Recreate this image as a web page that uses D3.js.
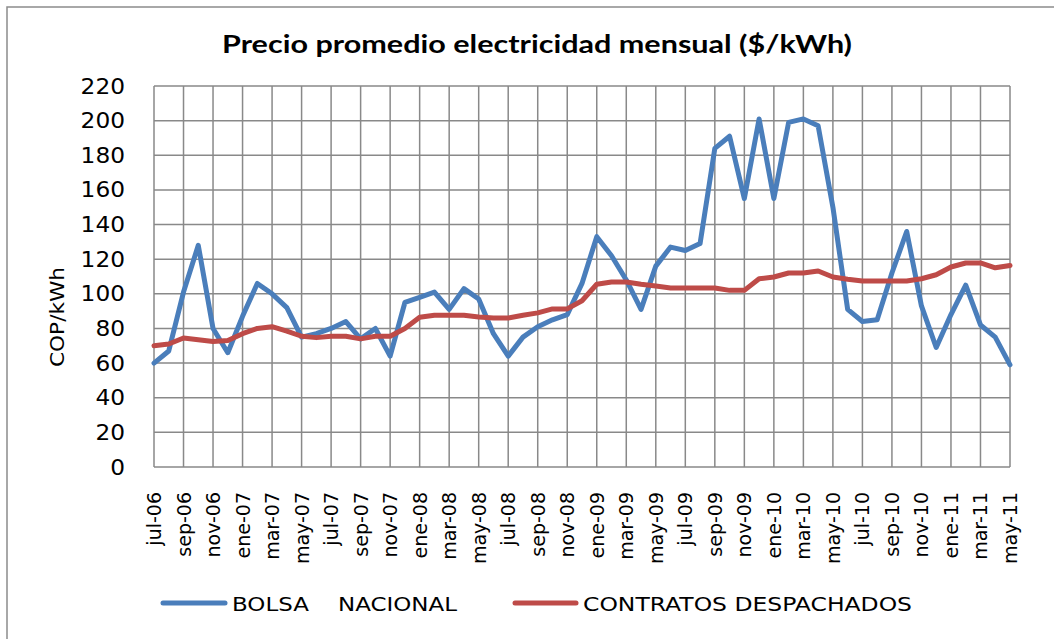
<!DOCTYPE html>
<html lang="es">
<head>
<meta charset="UTF-8" />
<title>Precio promedio electricidad mensual</title>
<script src="https://d3js.org/d3.v7.min.js"></script>
<style>
  body { margin: 0; background: #fff; }
  svg { display: block; font-family: "DejaVu Sans", "Open Sans", sans-serif; }
</style>
</head>
<body>
<svg id="chart" width="1054" height="639"></svg>
<script>
// months jul-06 .. may-11
const months = [
  "jul-06","ago-06","sep-06","oct-06","nov-06","dic-06",
  "ene-07","feb-07","mar-07","abr-07","may-07","jun-07","jul-07","ago-07","sep-07","oct-07","nov-07","dic-07",
  "ene-08","feb-08","mar-08","abr-08","may-08","jun-08","jul-08","ago-08","sep-08","oct-08","nov-08","dic-08",
  "ene-09","feb-09","mar-09","abr-09","may-09","jun-09","jul-09","ago-09","sep-09","oct-09","nov-09","dic-09",
  "ene-10","feb-10","mar-10","abr-10","may-10","jun-10","jul-10","ago-10","sep-10","oct-10","nov-10","dic-10",
  "ene-11","feb-11","mar-11","abr-11","may-11"
];
const bolsa = [
  60, 67, 101, 128, 80, 66, 87, 106, 100, 92,
  75, 77, 80, 84, 74, 80, 64, 95, 98, 101,
  91, 103, 97, 77, 64, 75, 81, 85, 88, 106,
  133, 122, 108, 91, 116, 127, 125, 129, 184, 191,
  155, 201, 155, 199, 201, 197, 150, 91, 84, 85,
  112, 136, 93, 69, 88, 105, 82, 75, 59
];
const contratos = [
  70, 71, 74.5, 73.5, 72.5, 73, 77, 80, 81, 78.5,
  75.5, 74.7, 75.5, 75.5, 74, 75.5, 75.5, 80, 86.5, 87.6,
  87.6, 87.6, 86.6, 86, 86, 87.6, 89, 91.3, 91.3, 96,
  105.5, 106.8, 106.8, 105.5, 104.5, 103.4, 103.4, 103.4, 103.4, 102,
  102, 108.7, 109.7, 112, 112, 113.2, 109.7, 108.4, 107.4, 107.4,
  107.4, 107.4, 108.7, 111, 115.5, 117.8, 117.8, 115, 116.4
];
const yTicks = [0, 20, 40, 60, 80, 100, 120, 140, 160, 180, 200, 220];
const seriesNames = ["BOLSA    NACIONAL", "CONTRATOS DESPACHADOS"];
const colors = ["#4A7EBB", "#BE4B48"];

const svg = d3.select("#chart");

// outer frame
svg.append("rect")
  .attr("x", 7).attr("y", 7)
  .attr("width", 1100).attr("height", 700)
  .attr("fill", "none").attr("stroke", "#8c8c8c").attr("stroke-width", 1.5);

const x = d3.scalePoint().domain(months).range([154, 1010]);
const y = d3.scaleLinear().domain([0, 220]).range([467, 86]);

// title
svg.append("text")
  .attr("x", 537).attr("y", 53)
  .attr("text-anchor", "middle")
  .attr("font-family", "Lato, sans-serif")
  .attr("font-size", 24).attr("font-weight", "bold")
  .attr("textLength", 630).attr("lengthAdjust", "spacingAndGlyphs")
  .text("Precio promedio electricidad mensual ($/kWh)");

// grid
const labelled = months.filter((d, i) => i % 2 === 0);
svg.append("g").selectAll("line.h")
  .data(yTicks).enter().append("line")
  .attr("x1", 154).attr("x2", 1010)
  .attr("y1", d => y(d)).attr("y2", d => y(d))
  .attr("stroke", "#898989").attr("stroke-width", 1.5);
svg.append("g").selectAll("line.v")
  .data(labelled).enter().append("line")
  .attr("x1", d => x(d)).attr("x2", d => x(d))
  .attr("y1", 86).attr("y2", 467)
  .attr("stroke", "#898989").attr("stroke-width", 1.5);

// y axis labels
svg.append("g").selectAll("text")
  .data(yTicks).enter().append("text")
  .attr("x", 125).attr("y", d => y(d))
  .attr("dy", "0.36em")
  .attr("text-anchor", "end")
  .attr("font-size", 21)
  .attr("textLength", d => String(d).length * 14.8)
  .attr("lengthAdjust", "spacingAndGlyphs")
  .text(d => d);

svg.append("text")
  .attr("transform", "translate(64,317) rotate(-90)")
  .attr("text-anchor", "middle")
  .attr("font-size", 19)
  .attr("textLength", 100).attr("lengthAdjust", "spacingAndGlyphs")
  .text("COP/kWh");

// x axis labels
svg.append("g").selectAll("text")
  .data(labelled).enter().append("text")
  .attr("transform", d => `translate(${x(d) + 7},492) rotate(-90)`)
  .attr("text-anchor", "end")
  .attr("font-size", 19)
  .text(d => d);

// lines
const line = d3.line().x((d, i) => x(months[i])).y(d => y(d));
[bolsa, contratos].forEach((s, k) => {
  svg.append("path")
    .datum(s)
    .attr("d", line)
    .attr("fill", "none")
    .attr("stroke", colors[k])
    .attr("stroke-width", 5)
    .attr("stroke-linejoin", "round")
    .attr("stroke-linecap", "round");
});

// legend
const legendLine = [[163, 225], [515, 576]];
const legendText = [[232, 225], [583, 329]];
seriesNames.forEach((name, k) => {
  const g = svg.append("g");
  g.append("line")
    .attr("x1", legendLine[k][0]).attr("x2", legendLine[k][1])
    .attr("y1", 603).attr("y2", 603)
    .attr("stroke", colors[k]).attr("stroke-width", 5)
    .attr("stroke-linecap", "round");
  g.append("text")
    .attr("x", legendText[k][0]).attr("y", 611)
    .attr("font-size", 19)
    .attr("textLength", legendText[k][1])
    .attr("lengthAdjust", "spacingAndGlyphs")
    .attr("xml:space", "preserve")
    .style("white-space", "pre")
    .text(name);
});
</script>
</body>
</html>
